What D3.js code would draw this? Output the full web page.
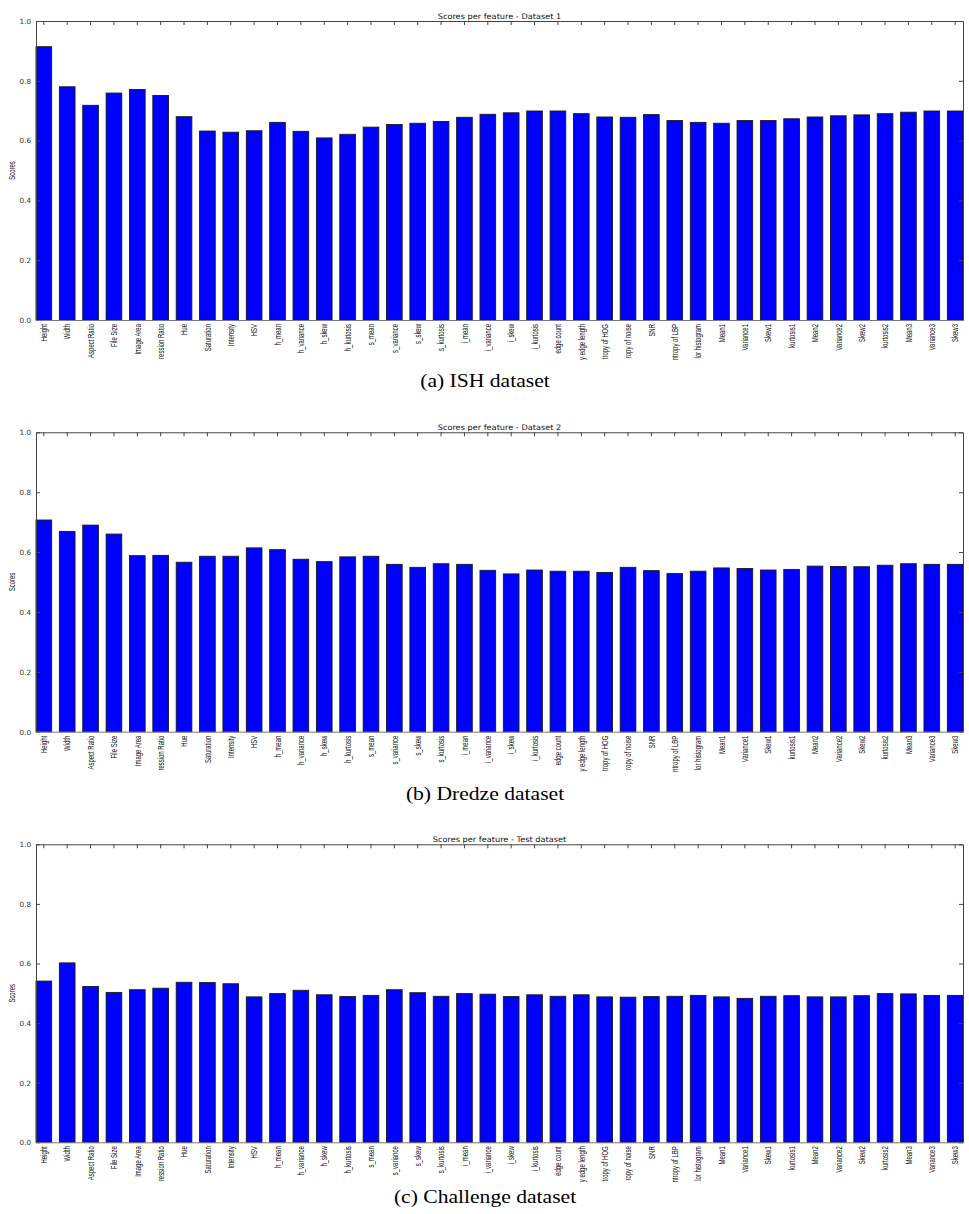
<!DOCTYPE html>
<html>
<head>
<meta charset="utf-8">
<script src="https://cdn.jsdelivr.net/npm/d3@7"></script>
<style>
  html, body { margin: 0; padding: 0; background: #fff; }
  svg { display: block; }
</style>
</head>
<body>
<svg id="chart" width="969" height="1214"></svg>
<script>
// ---- data ----
const categories = ["Height","Width","Aspect Ratio","File Size","Image Area","ression Ratio","Hue","Saturation","Intensity","HSV",
  "h_mean","h_variance","h_skew","h_kurtosis","s_mean","s_variance","s_skew","s_kurtosis","i_mean","i_variance",
  "i_skew","i_kurtosis","edge count","y edge length","tropy of HOG","ropy of noise","SNR","ntropy of LBP","lor histogram","Mean1",
  "Variance1","Skew1","kurtosis1","Mean2","Variance2","Skew2","kurtosis2","Mean3","Variance3","Skew3"];

const scoresDataset1 = [0.914,0.780,0.718,0.759,0.771,0.751,0.680,0.632,0.628,0.633,
  0.661,0.631,0.609,0.621,0.645,0.654,0.658,0.664,0.678,0.688,
  0.693,0.699,0.699,0.690,0.679,0.678,0.687,0.667,0.661,0.658,
  0.667,0.667,0.673,0.679,0.683,0.686,0.690,0.695,0.699,0.699];

const scoresDataset2 = [0.707,0.669,0.690,0.660,0.588,0.589,0.566,0.586,0.586,0.614,
  0.608,0.576,0.568,0.584,0.586,0.559,0.549,0.561,0.559,0.539,
  0.527,0.540,0.536,0.536,0.532,0.549,0.538,0.528,0.536,0.547,
  0.545,0.540,0.542,0.553,0.552,0.551,0.556,0.561,0.559,0.559];

const scoresTest = [0.541,0.602,0.523,0.503,0.512,0.517,0.537,0.536,0.532,0.488,
  0.499,0.510,0.495,0.489,0.493,0.512,0.502,0.490,0.499,0.497,
  0.489,0.495,0.490,0.495,0.488,0.487,0.489,0.490,0.493,0.488,
  0.483,0.490,0.492,0.488,0.488,0.492,0.499,0.498,0.493,0.493];

const yTicks = [0.0, 0.2, 0.4, 0.6, 0.8, 1.0];
const titles = ["Scores per feature - Dataset 1", "Scores per feature - Dataset 2", "Scores per feature - Test dataset"];
const captions = ["(a) ISH dataset", "(b) Dredze dataset", "(c) Challenge dataset"];
const yLabel = "Scores";

// ---- layout ----
const panels = [
  { values: scoresDataset1, top: 21,    bottom: 320,    caption: 387 },
  { values: scoresDataset2, top: 432.3, bottom: 731.7,  caption: 800 },
  { values: scoresTest,     top: 844.3, bottom: 1142.3, caption: 1203 }
];
const left = 36, right = 963;
const narrow = "Liberation Sans, Arial, sans-serif";

const svg = d3.select("#chart");

panels.forEach((p, k) => {
  const g = svg.append("g");
  const x = d3.scaleBand().domain(categories).range([left, right])
    .paddingInner(0.33).paddingOuter(0).align(0);
  const y = d3.scaleLinear().domain([0, 1]).range([p.bottom, p.top]);

  // bars
  g.selectAll("rect.bar").data(p.values).enter().append("rect")
    .attr("class", "bar")
    .attr("x", (d, i) => x(categories[i]))
    .attr("width", x.bandwidth())
    .attr("y", d => y(d))
    .attr("height", d => y(0) - y(d))
    .attr("fill", "#0000ff")
    .attr("stroke", "#1a1a1a")
    .attr("stroke-width", 0.9);

  // left axis
  const yAxisL = d3.axisLeft(y).tickValues(yTicks).tickFormat(d3.format(".1f"))
    .tickSizeInner(-4).tickSizeOuter(0).tickPadding(5);
  const gl = g.append("g").attr("transform", `translate(${left},0)`).call(yAxisL);
  gl.select(".domain").attr("stroke", "#444");
  gl.selectAll(".tick line").attr("stroke", "#444");
  gl.selectAll(".tick text").attr("font-family", "DejaVu Sans, sans-serif")
    .attr("font-size", 7.2).attr("fill", "#333");

  // right axis
  const yAxisR = d3.axisRight(y).tickValues(yTicks).tickFormat("")
    .tickSizeInner(-4).tickSizeOuter(0);
  const gr = g.append("g").attr("transform", `translate(${right},0)`).call(yAxisR);
  gr.select(".domain").attr("stroke", "#444");
  gr.selectAll(".tick line").attr("stroke", "#444");

  // top axis
  const xAxisT = d3.axisTop(x).tickFormat("").tickSizeInner(-4).tickSizeOuter(0);
  const gt = g.append("g").attr("transform", `translate(0,${p.top})`).call(xAxisT);
  gt.select(".domain").attr("stroke", "#444");
  gt.selectAll(".tick line").attr("stroke", "#444");

  // bottom axis with rotated, condensed labels
  const xAxisB = d3.axisBottom(x).tickSizeInner(0).tickSizeOuter(0).tickPadding(3);
  const gb = g.append("g").attr("transform", `translate(0,${p.bottom})`).call(xAxisB);
  gb.select(".domain").attr("stroke", "#777");
  gb.selectAll(".tick text")
    .attr("font-family", narrow)
    .attr("font-size", 8.8).attr("fill", "#111")
    .attr("text-anchor", "end")
    .attr("dy", null)
    .attr("transform", "rotate(-90) scale(0.68,1)")
    .attr("x", -4 / 0.68).attr("y", 3.2);

  // y label
  g.append("text")
    .attr("transform", `translate(14.5,${(p.top + p.bottom) / 2}) rotate(-90) scale(0.68,1)`)
    .attr("text-anchor", "middle")
    .attr("font-family", narrow)
    .attr("font-size", 8.8).attr("fill", "#111")
    .text(yLabel);

  // title
  g.append("text")
    .attr("transform", `translate(${(left + right) / 2},${p.top - 2}) scale(1.08,1)`)
    .attr("text-anchor", "middle")
    .attr("font-family", "DejaVu Sans, sans-serif")
    .attr("font-size", 7.6).attr("fill", "#111")
    .text(titles[k]);

  // caption (horizontally stretched, as in the reference)
  svg.append("text")
    .attr("transform", `translate(485,${p.caption}) scale(1.2,1)`)
    .attr("text-anchor", "middle")
    .attr("font-family", "Liberation Serif, Times New Roman, serif")
    .attr("font-size", 18).attr("fill", "#000")
    .text(captions[k]);
});
</script>
</body>
</html>
